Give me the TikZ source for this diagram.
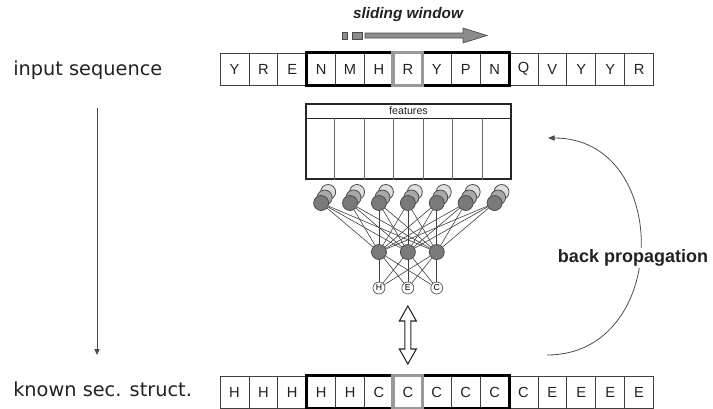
\documentclass[tikz,border=0pt]{standalone}
\usepackage{fontspec}
\setmainfont{Liberation Sans}
\newfontfamily\labelfont{DejaVu Sans}
\usetikzlibrary{arrows.meta, positioning, calc}

\definecolor{ink}{HTML}{222222}
\definecolor{unitdark}{HTML}{7A7A7A}
\definecolor{unitmid}{HTML}{A8A8A8}
\definecolor{unitlight}{HTML}{DEDEDE}
\definecolor{slidegray}{HTML}{8C8C8C}

\tikzset{
  cell/.style={draw=black!75, line width=0.6pt, minimum width=21.675pt, minimum height=24pt, inner sep=0pt, font=\fontsize{11}{11}\selectfont, text=ink},
  unit/.style={circle, draw=black!70, line width=0.6pt, minimum size=11.25pt, inner sep=0pt},
  outunit/.style={circle, draw=black!60, line width=0.6pt, fill=white, minimum size=9pt, inner sep=0pt, font=\fontsize{6.5}{6.5}\selectfont},
  wire/.style={black!75, line width=0.45pt},
  rowlabel/.style={anchor=west, font=\labelfont\fontsize{14.5}{14.5}\selectfont, text=ink},
}

\begin{document}
\begin{tikzpicture}[x=0.75pt, y=-0.75pt]
\useasboundingbox (0,0) rectangle (713,408);
% Row labels
\node[rowlabel, inner sep=0pt] (inlabel) at (13,70) {input sequence};
\node[rowlabel, inner sep=0pt] (sslabel) at (13,389) {known sec. struct.};
% Sequences
\foreach \l [count=\i] in {Y,R,E,N,M,H,R,Y,P,N,Q,V,Y,Y,R}
  \node[cell] (in\i) at ({220+(\i-0.5)*28.9}, 69) {\l};
\foreach \l [count=\i] in {H,H,H,H,H,C,C,C,C,C,C,E,E,E,E}
  \node[cell] (ss\i) at ({220+(\i-0.5)*28.9}, 392) {\l};
% Window frames
\foreach \r in {in,ss} {
  \draw[line width=2.4pt] (\r4.north west) rectangle (\r10.south east);
  \draw[black!40, line width=2.4pt] (\r7.north west) rectangle (\r7.south east);
}
% Sliding window
\node[font=\bfseries\itshape\fontsize{11.5}{11.5}\selectfont, text=ink] (slide) at (408,15) {sliding window};
\draw[black!70, fill=slidegray, line width=0.5pt] (342,32) rectangle (347,39);
\draw[black!70, fill=slidegray, line width=0.5pt] (352,32) rectangle (362,39);
\draw[black!70, fill=slidegray, line width=0.5pt] (365,33) -- (463,33) -- (463,28) -- (487,35.5) -- (463,43) -- (463,38) -- (365,38) -- cycle;
% Down arrow
\coordinate (downtop) at (97,108);
\coordinate (downbot) at (97,355);
\draw[black!70, line width=0.6pt, -{Triangle[length=4.5pt, width=4pt]}] (downtop) -- (downbot);
% Features
\node[draw=black!85, line width=1.2pt, minimum width=153.75pt, minimum height=56.25pt, inner sep=0pt] (feat) at (408.5,141.5) {};
\draw[black!85, line width=0.8pt] ([yshift=-11.25pt]feat.north west) -- ([yshift=-11.25pt]feat.north east);
\node[font=\fontsize{8}{8}\selectfont, text=ink] (feathead) at ($(feat.north)+(0,7.5)$) {features};
\foreach \k in {1,...,6}
  \draw[black!60, line width=0.6pt] ($(feat.north west)!\k/7!(feat.north east)+(0,15)$) -- ($(feat.south west)!\k/7!(feat.south east)$);
% Input units
\foreach \i in {1,...,7} {
  \pgfmathsetmacro\nx{220+(\i+2.5)*28.9}
  \node[unit, fill=unitlight] (b\i) at (\nx+7,192) {};
  \node[unit, fill=unitmid] (m\i) at (\nx+3.5,197.5) {};
  \node[unit, fill=unitdark] (n\i) at (\nx,203) {};
}
% Hidden and output units
\foreach \j/\l in {1/H,2/E,3/C} {
  \node[unit, fill=unitdark] (h\j) at ({220+(\j+4.5)*28.9},252) {};
  \node[outunit] (o\j) at ({220+(\j+4.5)*28.9},288) {\l};
}
\foreach \i in {1,...,7}
  \foreach \j in {1,2,3}
    \draw[wire] (n\i) -- (h\j);
\foreach \j in {1,2,3}
  \foreach \k in {1,2,3}
    \draw[wire] (h\j) -- (o\k);
% Comparison
\coordinate (match) at ($(o2.south)!0.5!(ss7.north)$);
\draw[black!85, fill=white, line width=0.8pt, line join=miter] (match) ++(0,-29) -- ++(8.5,15) -- ++(-5.5,0) -- ++(0,28) -- ++(5.5,0) -- ++(-8.5,15) -- ++(-8.5,-15) -- ++(5.5,0) -- ++(0,-28) -- ++(-5.5,0) -- cycle;
% Back propagation
\coordinate (bpstart) at (547,355);
\coordinate (bpend) at (548,138);
\draw[black!70, line width=0.6pt, -{Triangle[length=5pt, width=4pt]}] (bpstart) .. controls (671,355) and (672,138) .. (bpend);
\node[fill=white, font=\bfseries\fontsize{13.5}{13.5}\selectfont, text=ink, inner sep=1pt] (bplabel) at (633,258) {back propagation};
\end{tikzpicture}
\end{document}
